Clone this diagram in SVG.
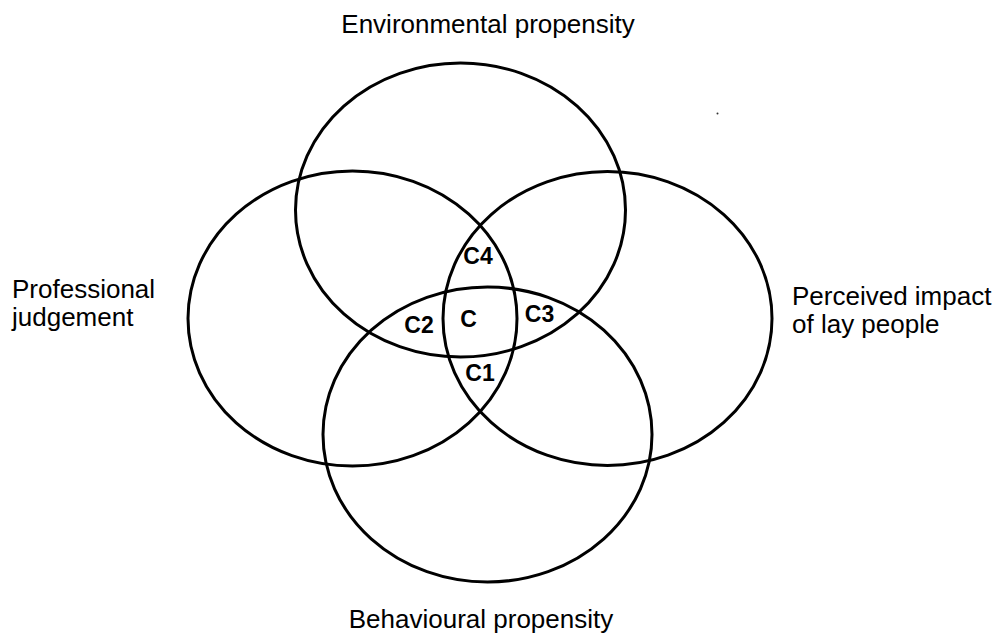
<svg xmlns="http://www.w3.org/2000/svg" width="998" height="637" viewBox="0 0 998 637">
  <style>
    .set { fill: none; stroke: #000; stroke-width: 3; }
    .label { font-family: "Liberation Sans", Arial, sans-serif; font-size: 26px; fill: #000; }
    .zone { font-family: "Liberation Sans", Arial, sans-serif; font-size: 23px; font-weight: bold; fill: #000; text-anchor: middle; }
  </style>
  <rect width="998" height="637" fill="#fff"/>

  <!-- Four overlapping sets -->
  <g id="environmental">
    <ellipse class="set" cx="460.5" cy="210" rx="165" ry="147"/>
    <text class="label" x="488" y="33" text-anchor="middle">Environmental propensity</text>
  </g>
  <g id="professional">
    <ellipse class="set" cx="352.5" cy="318.5" rx="164.5" ry="147.5"/>
    <text class="label" x="12" y="298">Professional</text>
    <text class="label" x="12" y="326">judgement</text>
  </g>
  <g id="perceived">
    <ellipse class="set" cx="607.5" cy="318.5" rx="164.5" ry="147"/>
    <text class="label" x="792" y="305">Perceived impact</text>
    <text class="label" x="792" y="333">of lay people</text>
  </g>
  <g id="behavioural">
    <ellipse class="set" cx="487.5" cy="434.5" rx="164.5" ry="147.5"/>
    <text class="label" x="481" y="628" text-anchor="middle">Behavioural propensity</text>
  </g>

  <!-- Intersection zones -->
  <g id="zones">
    <text class="zone" x="478" y="264">C4</text>
    <text class="zone" x="419" y="333">C2</text>
    <text class="zone" x="468.5" y="327">C</text>
    <text class="zone" x="539.5" y="322">C3</text>
    <text class="zone" x="480" y="381">C1</text>
  </g>

  <!-- small ink speck -->
  <circle cx="717.5" cy="113.5" r="1" fill="#333"/>
</svg>
